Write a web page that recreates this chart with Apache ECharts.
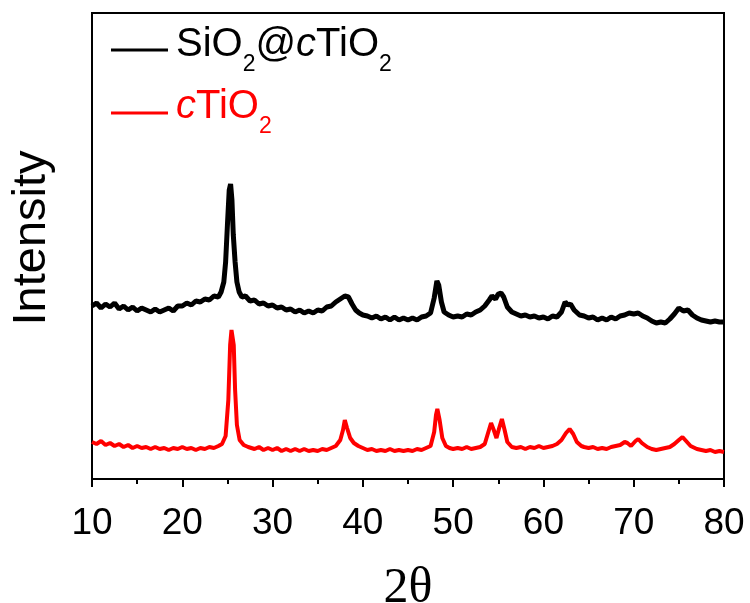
<!DOCTYPE html>
<html>
<head>
<meta charset="utf-8">
<script src="https://cdn.jsdelivr.net/npm/echarts@6/dist/echarts.min.js"></script>
<style>html,body{margin:0;padding:0;background:#fff}#c{width:750px;height:603px}</style>
</head>
<body>
<div id="c"></div>
<script>
// 2-theta angles (deg) and intensities (a.u.)
var angleSiO2cTiO2 = [10,10.5,11,11.5,12,12.5,13,13.5,14,14.5,15,15.5,16,16.5,17,17.5,18,18.5,19,19.5,20,20.5,21,21.5,22,22.5,23,23.5,24,24.3,24.6,24.8,25.0,25.2,25.35,25.5,25.65,25.85,26.05,26.3,26.6,27,27.5,28,28.5,29,29.5,30,30.5,31,31.5,32,32.5,33,33.5,34,34.5,35,35.5,36,36.5,37,37.5,38,38.4,38.8,39.2,39.6,40,40.5,41,41.5,42,42.5,43,43.5,44,44.5,45,45.5,46,46.5,47,47.5,47.9,48.2,48.4,48.7,49,49.5,50,50.5,51,51.5,52,52.5,53,53.5,54,54.3,54.7,55.0,55.3,55.6,56,56.5,57,57.5,58,58.5,59,59.5,60,60.5,61,61.5,62,62.4,62.7,63,63.4,64,64.5,65,65.5,66,66.5,67,67.5,68,68.5,69,69.5,70,70.5,71,71.5,72,72.5,73,73.5,74,74.5,75,75.5,76,76.5,77,77.5,78,78.5,79,79.5,80];
var pySiO2cTiO2 = [306,303,308,304,307,303,309,306,310,307,311,308,310,312,309,312,310,308,311,306,306,303,305,301,302,299,300,296,297,292,282,262,225,190,184,200,235,262,282,292,297,296,301,300,304,303,306,305,308,307,310,309,312,310,313,311,313,310,311,307,306,302,299,296,297,304,310,313,315,316,318,316,319,317,320,317,320,318,320,318,320,317,316,313,298,281,285,302,312,315,317,316,317,314,315,312,310,306,300,296,299,294,293,297,307,312,314,316,315,317,316,318,317,319,316,317,312,302,305,304,310,315,316,318,317,320,318,320,317,319,316,315,313,314,313,316,318,321,323,322,323,319,314,308,311,310,315,318,320,321,322,321,322,322];

var anglecTiO2 = [10,10.5,11,11.5,12,12.5,13,13.5,14,14.5,15,15.5,16,16.5,17,17.5,18,18.5,19,19.5,20,20.5,21,21.5,22,22.5,23,23.5,24,24.4,24.8,25.1,25.3,25.45,25.55,25.7,25.85,26.05,26.35,26.8,27.3,28,28.5,29,29.5,30,30.5,31,31.5,32,32.5,33,33.5,34,34.5,35,35.5,36,36.5,37,37.5,37.8,38.0,38.25,38.6,39,39.5,40,40.5,41,41.5,42,42.5,43,43.5,44,44.5,45,45.5,46,46.5,47,47.5,47.9,48.1,48.25,48.5,48.8,49.2,49.6,50,50.5,51,51.5,52,52.5,53,53.5,53.9,54.2,54.5,54.8,55.1,55.4,55.7,56,56.5,57,57.5,58,58.5,59,59.5,60,60.5,61,61.5,62,62.5,62.9,63.3,63.7,64.2,64.5,65,65.5,66,66.5,67,67.5,68,68.5,69,69.3,69.7,70.2,70.5,70.9,71.5,72,72.5,73,73.5,74,74.5,75,75.4,75.8,76.3,77,77.5,78,78.5,79,79.5,80];
var pycTiO2 = [442,444,441,445,443,446,444,447,445,448,446,448,447,449,447,449,448,450,448,449,447,449,448,450,448,449,447,448,446,444,436,400,345,330,328,345,390,425,440,445,447,449,447,450,448,450,448,451,449,451,449,451,449,451,450,451,449,450,448,446,440,430,420,428,438,443,446,448,450,449,451,450,451,449,451,450,451,450,451,449,450,448,446,432,415,409,420,438,446,448,449,448,449,447,449,448,447,444,432,423,430,438,428,419,430,442,447,448,447,449,447,448,446,448,447,446,444,440,433,429,434,442,446,447,448,447,449,448,449,447,446,445,442,443,446,441,439,443,447,449,450,449,448,447,444,440,437,441,446,449,450,451,450,452,451,452];

var xTicks = [10,20,30,40,50,60,70,80];
var BASE = 479; // intensity = BASE - read value

function toPairs(xs, ys){ var out=[]; for(var i=0;i<xs.length;i++){ out.push([xs[i], BASE-ys[i]]); } return out; }

var chart = echarts.init(document.getElementById('c'), null, {renderer:'canvas'});
var SANS = 'Liberation Sans, Arial, sans-serif';
function richStyle(color){
  return {n:{fontFamily:SANS,fontSize:40,lineHeight:40,fill:color},
          i:{fontFamily:SANS,fontSize:40,lineHeight:40,fontStyle:'italic',fill:color},
          s:{fontFamily:SANS,fontSize:23,lineHeight:24,padding:[40,0,0,0],fill:color}};
}
chart.setOption({
  animation:false,
  backgroundColor:'#fff',
  grid:{left:92,right:26,top:13,bottom:124,containLabel:false,outerBoundsMode:'none',
        show:true,borderColor:'#000',borderWidth:2,backgroundColor:'transparent'},
  xAxis:{
    type:'value',min:10,max:80,interval:10,
    name:'2θ',nameLocation:'middle',nameGap:85,
    nameTextStyle:{fontFamily:'Liberation Serif, Times New Roman, serif',fontSize:50,color:'#000'},
    axisLine:{show:true,lineStyle:{color:'#000',width:2}},
    axisTick:{show:true,inside:false,length:8,lineStyle:{color:'#000',width:2}},
    minorTick:{show:true,splitNumber:2,length:5,lineStyle:{color:'#000',width:2}},
    axisLabel:{show:true,margin:26,fontFamily:SANS,fontSize:37,color:'#000',
      formatter:function(v){ return xTicks.indexOf(v)>=0 ? String(v) : ''; }},
    splitLine:{show:false},minorSplitLine:{show:false}
  },
  yAxis:{
    type:'value',min:0,max:466,
    axisLine:{show:true,lineStyle:{color:'#000',width:2}},
    axisTick:{show:false},axisLabel:{show:false},splitLine:{show:false}
  },
  graphic:[
    {type:'text',rotation:Math.PI/2,x:32,y:238,style:{text:'Intensity',fontFamily:SANS,fontSize:47,fill:'#000',align:'center',verticalAlign:'middle'}},
    {type:'line',shape:{x1:111,y1:50,x2:168,y2:50},style:{stroke:'#000',lineWidth:3}},
    {type:'line',shape:{x1:111,y1:113,x2:168,y2:113},style:{stroke:'#ff0000',lineWidth:3}},
    {type:'text',x:176,y:45,style:{
      text:'{n|SiO}{s|2}{n|@}{i|c}{n|TiO}{s|2}',verticalAlign:'middle',align:'left',rich:richStyle('#000')}},
    {type:'text',x:176,y:107,style:{
      text:'{i|c}{n|TiO}{s|2}',verticalAlign:'middle',align:'left',rich:richStyle('#ff0000')}}
  ],
  series:[
    {name:'SiO2@cTiO2',type:'line',data:toPairs(angleSiO2cTiO2,pySiO2cTiO2),showSymbol:false,symbol:'none',
     lineStyle:{color:'#000',width:5},itemStyle:{color:'#000'}},
    {name:'cTiO2',type:'line',data:toPairs(anglecTiO2,pycTiO2),showSymbol:false,symbol:'none',
     lineStyle:{color:'#ff0000',width:4},itemStyle:{color:'#ff0000'}}
  ]
});
</script>
</body>
</html>
